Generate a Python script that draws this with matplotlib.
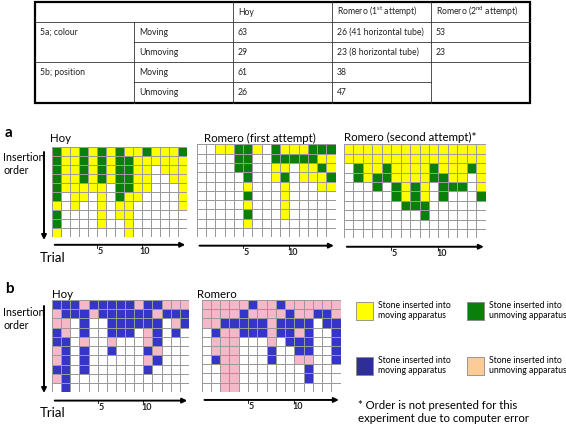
"""
Stone insertion order - tables and grids of moving / unmoving apparatus
"""
import numpy as np
import matplotlib.pyplot as plt
from matplotlib.colors import ListedColormap
from matplotlib.patches import Rectangle

plt.rcParams['font.family'] = ['Lato', 'DejaVu Sans']
plt.rcParams['mathtext.fontset'] = 'custom'
plt.rcParams['mathtext.rm'] = 'Lato'

W, H = 566, 425

# Table contents
table_header = ['Hoy', r'Romero (1$^{\mathrm{st}}$ attempt)', r'Romero (2$^{\mathrm{nd}}$ attempt)']
table_groups = ['5a; colour', '5b; position']
table_moves = ['Moving', 'Unmoving', 'Moving', 'Unmoving']
hoy_counts = ['63', '29', '61', '26']
romero1_counts = ['26 (41 horizontal tube)', '23 (8 horizontal tube)', '38', '47']
romero2_counts = ['53', '23', '', '']

# Grids: rows = insertion order, columns = trial
# 'M' = stone into moving apparatus, 'U' = into unmoving, '.' = none
hoy_colour = [
    "UMMUMUMUMMUMMMU",
    "UMMUMUMUUMMMMMM",
    "UMMUMUMUUMM.MMM",
    "UMMUMUMUUMM..MM",
    "UMMMMM.UUMM...M",
    "U.MM.M.UMM....M",
    "M.M..M.MM.....M",
    "U....M.MM......",
    "U....M..M......",
    "M.......M......",
]
romero1_colour = [
    "..MMUUM.UMMMUUU",
    "....UU..UUUUUMM",
    "....UU..MM.MMUM",
    ".....U..MU.MMMU",
    ".....M...M...MM",
    ".....U...M.....",
    ".....M...M.....",
    ".....U...M.....",
    ".....M.........",
    "...............",
]
romero2_colour = [
    "MMMMMMMMMMMMMMM",
    "MMMMMMMMMMMMMMM",
    ".UMMUMMMMUMMMUM",
    ".UMUUMMMMUUMM.M",
    "...U.UMUM.UUU.M",
    ".....UMUM.U...U",
    "......UUU......",
    "........U......",
    "...............",
    "...............",
]
hoy_position = [
    "MMMUMMMMMUMMUUU",
    "UMMMUMMMMMMUMMM",
    "UU.M..MMMMMM.UM",
    "MU.M..MMM.UM.M.",
    "MM.U..U...UM...",
    "UM.M..M...MU...",
    "UM.M......UM...",
    "MM.M......M....",
    "UM.............",
    ".M.............",
]
romero_position = [
    "UUUUUMUUMUUUUUU",
    "UUUUMUUUUMUUMMU",
    "UUMMMMMUMMMM.MM",
    ".MUUMMMUMMUM..M",
    ".UUU...U.MMM..M",
    ".UUU...M..MM..M",
    ".MUU...M..UU..M",
    "..UU.......M...",
    "..UU.......M...",
    "..UU...........",
]
trial_ticks = [5, 10]

YELLOW, GREEN = '#ffff00', '#0a800a'
BLUE, PINK = '#3535c8', '#f5b8c9'
LEGEND_BLUE, LEGEND_PEACH = '#2e2e96', '#fccb98'
EDGE = '#9a9a9a'


def to_codes(rows):
    lookup = {'.': 0, 'M': 1, 'U': 2}
    return np.array([[lookup[c] for c in r] for r in rows])


def px_axes(fig, left, top, right, bottom):
    return fig.add_axes([left / W, 1 - bottom / H, (right - left) / W, (bottom - top) / H])


def draw_grid(fig, rows, box, moving_col, unmoving_col):
    ax = px_axes(fig, *box)
    codes = to_codes(rows)
    nr, nc = codes.shape
    cmap = ListedColormap(['white', moving_col, unmoving_col])
    ax.pcolormesh(np.arange(nc + 1), np.arange(nr + 1), codes, cmap=cmap,
                  vmin=-0.5, vmax=2.5, edgecolors=EDGE, linewidth=0.6)
    ax.set_xlim(0, nc)
    ax.set_ylim(nr, 0)
    ax.axis('off')

    # trial axis below the grid
    ya = nr + 0.9
    ax.annotate('', xy=(nc - 0.2, ya), xytext=(0.3, ya), annotation_clip=False,
                arrowprops=dict(arrowstyle='-|>', lw=1.4, color='black', mutation_scale=7,
                                shrinkA=0, shrinkB=0))
    for t in trial_ticks:
        ax.plot([t, t], [ya, ya + 0.3], color='black', lw=0.6, clip_on=False)
        ax.text(t + 0.35, ya + 0.75, str(t), fontsize=6.5, ha='center', va='center',
                fontweight='bold', color='#222222', clip_on=False)
    return ax


fig = plt.figure(figsize=(W / 100, H / 100), dpi=100)
ov = fig.add_axes([0, 0, 1, 1])
ov.set_xlim(0, W)
ov.set_ylim(H, 0)
ov.axis('off')

# ---- table ----
xs = [35, 134, 233, 332, 431, 530]
ys = [2, 22, 42, 62, 82, 103]
line_kw = dict(color='#333333', lw=0.6)
ov.plot([xs[0], xs[-1]], [ys[1]] * 2, **line_kw)
ov.plot([xs[1], xs[-1]], [ys[2]] * 2, **line_kw)
ov.plot([xs[0], xs[-1]], [ys[3]] * 2, **line_kw)
ov.plot([xs[1], xs[4]], [ys[4]] * 2, **line_kw)
ov.plot([xs[1]] * 2, [ys[1], ys[-1]], **line_kw)
for x in xs[2:5]:
    ov.plot([x] * 2, [ys[0], ys[-1]], **line_kw)
ov.add_patch(Rectangle((xs[0], ys[0]), xs[-1] - xs[0], ys[-1] - ys[0],
                       fill=False, lw=1.6, edgecolor='black'))

tkw = dict(fontsize=6.2, va='center', ha='left', color='#222222')
for j, lab in enumerate(table_header):
    ov.text(xs[2 + j] + 5, (ys[0] + ys[1]) / 2, lab, **tkw)
for g, lab in enumerate(table_groups):
    ov.text(xs[0] + 5, (ys[1 + 2 * g] + ys[2 + 2 * g]) / 2, lab, **tkw)
for i in range(4):
    yc = (ys[1 + i] + ys[2 + i]) / 2
    ov.text(xs[1] + 5, yc, table_moves[i], **tkw)
    ov.text(xs[2] + 5, yc, hoy_counts[i], **tkw)
    ov.text(xs[3] + 5, yc, romero1_counts[i], **tkw)
    ov.text(xs[4] + 5, yc, romero2_counts[i], **tkw)

# ---- panel a ----
ov.text(5, 133, 'a', fontsize=11, fontweight='bold', va='center')
ov.text(50, 139, 'Hoy', fontsize=8.3, va='center')
ov.text(204, 138, 'Romero (first attempt)', fontsize=8.3, va='center')
ov.text(344, 137, 'Romero (second attempt)*', fontsize=8.3, va='center')
ov.text(3, 164, 'Insertion\norder', fontsize=7.7, va='center', linespacing=1.3)
ov.annotate('', xy=(44, 240), xytext=(44, 152),
            arrowprops=dict(arrowstyle='-|>', lw=1.4, color='black', mutation_scale=7,
                            shrinkA=0, shrinkB=0))
ov.text(40, 258, 'Trial', fontsize=9.5, va='center')

draw_grid(fig, hoy_colour, (52, 146.7, 187, 236.7), YELLOW, GREEN)
draw_grid(fig, romero1_colour, (196.7, 144.3, 335.7, 237.3), YELLOW, GREEN)
draw_grid(fig, romero2_colour, (344, 144.3, 485.7, 238.3), YELLOW, GREEN)

# ---- panel b ----
ov.text(5, 289, 'b', fontsize=11, fontweight='bold', va='center')
ov.text(52, 294, 'Hoy', fontsize=8.3, va='center')
ov.text(197, 294, 'Romero', fontsize=8.3, va='center')
ov.text(3, 319, 'Insertion\norder', fontsize=7.7, va='center', linespacing=1.3)
ov.annotate('', xy=(44, 393), xytext=(44, 306),
            arrowprops=dict(arrowstyle='-|>', lw=1.4, color='black', mutation_scale=7,
                            shrinkA=0, shrinkB=0))
ov.text(40, 413, 'Trial', fontsize=9.5, va='center')

draw_grid(fig, hoy_position, (52, 300, 189, 392.3), BLUE, PINK)
draw_grid(fig, romero_position, (201.7, 300, 340.7, 391.7), BLUE, PINK)

# ---- legend ----
legend_items = [
    (356, 302, YELLOW, 'Stone inserted into\nmoving apparatus'),
    (467, 302, GREEN, 'Stone inserted into\nunmoving apparatus'),
    (356, 357, LEGEND_BLUE, 'Stone inserted into\nmoving apparatus'),
    (467, 357, LEGEND_PEACH, 'Stone inserted into\nunmoving apparatus'),
]
for x, y, col, lab in legend_items:
    ov.add_patch(Rectangle((x, y), 17, 17.5, facecolor=col, edgecolor='#888888', lw=0.6))
    ov.text(x + 22, y + 8.5, lab, fontsize=6.2, va='center', linespacing=1.25)

ov.text(358, 412, '* Order is not presented for this\nexperiment due to computer error',
        fontsize=8.2, va='center', linespacing=1.3)

fig.savefig('out.png', dpi=100)
